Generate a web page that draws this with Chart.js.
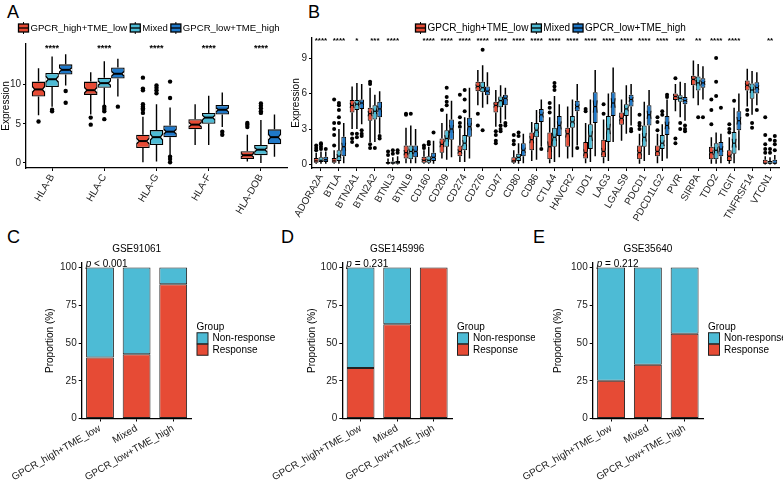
<!DOCTYPE html>
<html>
<head>
<meta charset="utf-8">
<script src="https://cdn.jsdelivr.net/npm/chart.js@4.4.1/dist/chart.umd.min.js"></script>
<style>
body { margin: 0; background: #fff; width: 783px; height: 481px; position: relative; overflow: hidden; font-family: "Liberation Sans", Arial, sans-serif; }
canvas { position: absolute; }
.tag { position: absolute; font-size: 18px; color: #000; line-height: 20px; }
</style>
</head>
<body>
<div class="tag" style="left:7px;top:2px">A</div>
<div class="tag" style="left:308px;top:2px">B</div>
<div class="tag" style="left:7px;top:227px">C</div>
<div class="tag" style="left:281px;top:227px">D</div>
<div class="tag" style="left:533px;top:227px">E</div>
<canvas id="cA" width="290" height="240" style="left:0;top:0"></canvas>
<canvas id="cB" width="493" height="240" style="left:290px;top:0"></canvas>
<canvas id="cC" width="290" height="241" style="left:0;top:240px"></canvas>
<canvas id="cD" width="280" height="241" style="left:255px;top:240px"></canvas>
<canvas id="cE" width="268" height="241" style="left:515px;top:240px"></canvas>
<script>
// groups + colours
const groups = ['GPCR_high+TME_low', 'Mixed', 'GPCR_low+TME_high'];
const boxColors = ['#E64B35', '#4DBBD5', '#1F78C8'];

// panel A : [lower whisker, q1, median, q3, upper whisker]
const genesA = ['HLA-B', 'HLA-C', 'HLA-G', 'HLA-F', 'HLA-DOB'];
const aHigh = [[6.1, 8.5, 9.4, 10.4, 12.1], [6.2, 8.7, 9.3, 10.4, 11.6], [0.1, 1.9, 2.8, 3.6, 5.9], [2.3, 4.3, 4.9, 5.6, 7.5], [0.2, 0.5, 1.0, 1.5, 3.6]];
const aMixed = [[7.2, 9.7, 10.7, 11.5, 13.6], [7.4, 9.6, 10.2, 10.9, 13.0], [0.2, 2.3, 3.3, 4.2, 7.5], [2.3, 5.0, 5.8, 6.4, 8.6], [0.0, 1.0, 1.7, 2.3, 5.5]];
const aLow = [[9.9, 11.3, 11.9, 12.6, 13.9], [8.5, 10.8, 11.4, 12.2, 13.3], [1.0, 3.3, 4.0, 4.8, 7.1], [4.6, 6.2, 6.8, 7.4, 9.0], [0.8, 2.4, 3.3, 4.3, 6.2]];
const aHighOut = [[5.3], [5.8, 4.9], [6.4, 6.8, 7.0, 7.2, 7.5, 9.3, 9.5, 10.9], [], [4.6, 4.9, 5.1]];
const aMixedOut = [[6.6, 6.8], [7.2, 6.9, 6.6, 5.6], [8.9, 9.3, 9.6, 9.9], [], [6.4, 6.6, 7.0, 7.3, 7.6]];
const aLowOut = [[9.2, 7.7], [7.2], [10.4, 8.3, 0.8, 0.5, 0.1], [4.0, 3.6], []];
const starsA = ['****', '****', '****', '****', '****'];
const ticksA = [0, 5, 10];

// panel B
const genesB = ['ADORA2A', 'BTLA', 'BTN2A1', 'BTN2A2', 'BTNL3', 'BTNL9', 'CD160', 'CD209', 'CD274', 'CD276', 'CD47', 'CD80', 'CD86', 'CTLA4', 'HAVCR2', 'IDO1', 'LAG3', 'LGALS9', 'PDCD1', 'PDCD1LG2', 'PVR', 'SIRPA', 'TDO2', 'TIGIT', 'TNFRSF14', 'VTCN1'];
const bHigh = [[0.05, 0.15, 0.3, 0.55, 1.0], [0.05, 0.15, 0.3, 0.55, 1.2], [3.0, 4.4, 5.0, 5.45, 6.6], [1.9, 3.7, 4.3, 4.8, 6.5], [0.0, 0.05, 0.1, 0.2, 0.5], [0.1, 0.5, 1.0, 1.6, 3.1], [0.05, 0.15, 0.35, 0.65, 1.2], [0.5, 1.0, 1.7, 2.2, 3.5], [0.2, 0.7, 1.1, 1.6, 3.0], [5.0, 6.2, 6.6, 7.0, 8.0], [3.2, 4.4, 5.0, 5.3, 6.3], [0.05, 0.15, 0.3, 0.6, 1.2], [0.3, 1.2, 2.1, 2.7, 3.6], [0.1, 0.45, 1.5, 2.7, 4.0], [0.5, 1.5, 2.6, 3.1, 4.9], [0.1, 0.5, 1.0, 1.9, 3.5], [0.1, 0.6, 1.1, 2.1, 3.8], [2.0, 3.35, 3.9, 4.4, 5.5], [0.05, 0.45, 1.0, 1.6, 2.6], [0.1, 0.7, 1.1, 1.6, 2.6], [4.5, 5.45, 5.75, 6.0, 6.8], [5.6, 6.7, 7.2, 7.5, 8.8], [0.05, 0.45, 1.0, 1.5, 2.3], [0.05, 0.3, 0.7, 1.2, 2.3], [4.9, 6.25, 6.7, 7.1, 8.1], [0.0, 0.05, 0.1, 0.4, 0.7]];
const bMixed = [[0.05, 0.2, 0.35, 0.6, 1.1], [0.05, 0.3, 0.7, 1.2, 3.0], [3.0, 4.6, 5.1, 5.45, 6.9], [1.9, 3.8, 4.5, 5.0, 5.9], [0.0, 0.05, 0.12, 0.25, 0.6], [0.1, 0.45, 1.1, 1.6, 3.3], [0.05, 0.15, 0.35, 0.7, 1.5], [0.4, 1.5, 2.2, 2.9, 4.3], [0.2, 1.2, 1.8, 2.5, 4.0], [4.8, 6.1, 6.5, 7.0, 8.4], [3.5, 4.85, 5.4, 5.75, 6.7], [0.05, 0.3, 0.6, 0.9, 1.8], [0.4, 2.3, 2.9, 3.5, 4.6], [0.2, 1.5, 2.3, 3.1, 5.8], [0.6, 3.1, 3.6, 4.1, 5.5], [0.2, 1.3, 2.4, 3.4, 5.5], [0.3, 1.9, 3.0, 4.1, 6.0], [2.6, 4.1, 4.7, 5.1, 6.7], [0.3, 1.5, 2.3, 3.3, 5.3], [0.3, 1.3, 1.8, 2.5, 3.4], [4.0, 5.3, 5.6, 5.85, 7.0], [5.0, 6.25, 6.9, 7.45, 8.5], [0.05, 0.45, 1.2, 1.8, 2.7], [0.1, 0.9, 1.8, 2.75, 4.8], [4.2, 5.55, 6.3, 6.85, 7.9], [0.0, 0.05, 0.1, 0.3, 0.6]];
const bLow = [[0.05, 0.2, 0.4, 0.65, 1.1], [0.1, 0.7, 1.5, 2.35, 3.5], [3.4, 4.7, 5.2, 5.5, 6.8], [2.6, 4.0, 4.7, 5.3, 6.2], [0.0, 0.05, 0.15, 0.3, 0.7], [0.1, 0.6, 1.1, 1.6, 3.0], [0.05, 0.3, 0.6, 1.0, 2.0], [0.6, 2.1, 3.0, 3.8, 5.4], [0.5, 2.35, 3.2, 3.95, 6.5], [5.1, 5.85, 6.2, 6.6, 7.8], [3.8, 5.0, 5.6, 5.9, 6.5], [0.1, 0.7, 1.2, 1.8, 2.6], [1.5, 3.6, 4.2, 4.7, 5.5], [0.6, 2.4, 3.3, 4.1, 5.1], [1.6, 4.5, 4.9, 5.4, 6.8], [0.7, 3.5, 4.9, 6.1, 8.0], [1.9, 4.1, 5.2, 6.1, 8.2], [3.3, 4.9, 5.5, 5.9, 6.8], [0.8, 3.3, 4.2, 5.0, 6.3], [0.5, 2.5, 3.3, 4.1, 5.5], [3.7, 5.1, 5.4, 5.7, 6.9], [5.5, 6.5, 6.9, 7.3, 8.3], [0.1, 0.7, 1.3, 1.9, 2.6], [1.2, 2.9, 3.7, 4.5, 6.0], [5.0, 6.0, 6.5, 6.95, 7.8], [0.0, 0.05, 0.1, 0.4, 0.8]];
const bHighOut = [[1.2, 1.4, 1.6], [1.6, 2.5, 3.0, 3.5, 5.5], [2.6, 2.2, 1.9], [6.8, 7.0, 1.7, 1.4], [0.8, 1.1], [4.2, 4.3], [1.4, 1.6], [4.6], [3.2, 3.5, 4.0, 5.9], [4.3, 3.3], [2.8, 2.5, 2.0, 1.8], [1.7, 2.0, 2.5], [], [4.4, 4.8, 5.2], [], [4.5, 4.7], [4.3, 5.1], [], [3.0, 3.3, 3.5, 4.2], [2.9, 3.6, 4.0], [7.3, 2.2, 1.8], [], [3.4, 4.6, 5.5], [2.7, 3.0, 3.4], [4.6, 4.2], [1.0, 1.3, 1.7, 2.5, 4.0]];
const bMixedOut = [[1.3, 1.5, 1.7, 1.8], [3.5, 4.0, 4.6, 5.0, 5.2], [2.6, 2.3, 1.6], [1.4], [0.9, 1.2], [4.3], [1.7, 1.9], [5.0, 5.3, 5.7, 6.5], [4.5, 5.5, 6.3], [2.9, 9.7], [3.3, 3.0, 2.8], [2.4, 2.7], [], [6.3, 6.6, 6.9], [], [], [], [], [], [4.2, 4.5], [3.5, 3.0], [4.0], [5.8, 7.0, 9.0], [5.4], [3.5, 3.1], [1.0, 1.3, 2.1]];
const bLowOut = [[1.3], [], [2.9, 2.6, 2.4], [2.4, 2.2], [1.0, 1.2], [], [2.7], [], [], [], [3.5, 3.3], [], [1.3], [], [1.4], [], [], [3.0, 2.8], [], [5.7, 5.9], [3.3, 3.0, 2.8], [4.0], [4.8], [], [4.6], [1.2, 1.7, 2.0, 2.4]];
const starsB = ['****', '****', '*', '***', '****', '', '****', '****', '****', '****', '****', '****', '****', '****', '****', '****', '****', '****', '****', '****', '***', '**', '****', '****', '', '**'];
const ticksB = [0, 3, 6, 9];

// panels C, D, E : proportion (%)
const respLabels = ['GPCR_high+TME_low', 'Mixed', 'GPCR_low+TME_high'];
const respC = [40.4, 42.6, 89.0];
const nonC = [59.6, 57.4, 11.0];
const respD = [33.4, 62.4, 100];
const nonD = [66.6, 37.6, 0];
const respE = [25.0, 35.6, 56.2];
const nonE = [75.0, 64.4, 43.8];
const ticksP = [0, 25, 50, 75, 100];

Chart.defaults.font.family = '"Liberation Sans", Arial, sans-serif';
Chart.defaults.color = '#222';

// keep the plot area where the layout puts it (no extra label padding)
const noPad = s => { s.paddingLeft = 0; s.paddingRight = 0; s.paddingTop = 0; s.paddingBottom = 0; };

// whiskers, notches, medians and outliers on top of the floating bars
const boxDraw = {
  id: 'boxDraw',
  afterDatasetsDraw(chart, args, o) {
    const ctx = chart.ctx, ys = chart.scales.y;
    const py = v => ys.getPixelForValue(v);
    ctx.save();
    chart.data.datasets.forEach((ds, di) => {
      chart.getDatasetMeta(di).data.forEach((bar, i) => {
        const s = o.stats[di][i];
        const cx = bar.x, w = bar.width, L = cx - w / 2, R = cx + w / 2;
        const top = py(s[3]), bot = py(s[1]), m = py(s[2]);
        ctx.strokeStyle = '#000';
        ctx.lineWidth = o.lw;
        ctx.beginPath();
        ctx.moveTo(cx, top); ctx.lineTo(cx, py(s[4]));
        ctx.moveTo(cx, bot); ctx.lineTo(cx, py(s[0]));
        ctx.stroke();
        const nh = Math.min((bot - top) * 0.2, (bot - top) / 2 - 1);
        const ins = w * o.notch;
        if (nh > 1 && ins > 0.5) {
          ctx.fillStyle = '#fff';
          ctx.beginPath();
          ctx.moveTo(L, m - nh); ctx.lineTo(L + ins, m); ctx.lineTo(L, m + nh);
          ctx.moveTo(R, m - nh); ctx.lineTo(R - ins, m); ctx.lineTo(R, m + nh);
          ctx.fill();
          ctx.lineWidth = o.bw;
          ctx.beginPath();
          ctx.moveTo(L + o.bw / 2, m - nh); ctx.lineTo(L + ins, m); ctx.lineTo(L + o.bw / 2, m + nh);
          ctx.moveTo(R - o.bw / 2, m - nh); ctx.lineTo(R - ins, m); ctx.lineTo(R - o.bw / 2, m + nh);
          ctx.stroke();
        }
        ctx.lineWidth = o.mw;
        ctx.beginPath();
        ctx.moveTo(L + ins, m); ctx.lineTo(R - ins, m);
        ctx.stroke();
        ctx.fillStyle = '#000';
        o.outs[di][i].forEach(v => {
          ctx.beginPath();
          ctx.arc(cx, py(v), o.r, 0, Math.PI * 2);
          ctx.fill();
        });
      });
    });
    ctx.restore();
  }
};

// significance stars + group legend
const boxText = {
  id: 'boxText',
  afterDraw(chart, args, o) {
    const ctx = chart.ctx, xs = chart.scales.x;
    ctx.save();
    ctx.fillStyle = '#000';
    ctx.font = o.starFont;
    ctx.textAlign = 'center';
    ctx.textBaseline = 'top';
    o.stars.forEach((t, i) => ctx.fillText(t, xs.getPixelForValue(i), chart.chartArea.top + o.starDy));
    // legend
    ctx.font = o.keyFont;
    ctx.textAlign = 'left';
    ctx.textBaseline = 'middle';
    let x = o.keyX;
    const y = o.keyY;
    groups.forEach((g, i) => {
      ctx.strokeStyle = '#000';
      ctx.lineWidth = 1;
      ctx.beginPath();
      ctx.moveTo(x + 5.5, y - 6); ctx.lineTo(x + 5.5, y + 6);
      ctx.stroke();
      ctx.fillStyle = boxColors[i];
      ctx.fillRect(x + 0.5, y - 4, 10, 8);
      ctx.lineWidth = 1.3;
      ctx.strokeRect(x + 0.5, y - 4, 10, 8);
      ctx.beginPath();
      ctx.moveTo(x + 0.5, y); ctx.lineTo(x + 10.5, y);
      ctx.stroke();
      ctx.fillStyle = '#000';
      ctx.fillText(g, x + 12.5, y + 0.5);
      x += 12.5 + ctx.measureText(g).width + 2.5;
    });
    ctx.restore();
  }
};

function boxChart(id, labels, stats, outs, stars, lim, ticks, c) {
  return new Chart(document.getElementById(id), {
    type: 'bar',
    data: {
      labels: labels,
      datasets: stats.map((st, g) => ({
        label: groups[g],
        data: st.map(s => [s[1], s[3]]),
        backgroundColor: boxColors[g],
        borderColor: '#000',
        borderWidth: c.bw,
        borderSkipped: false,
        categoryPercentage: c.cp,
        barPercentage: 1
      }))
    },
    options: {
      responsive: false,
      animation: false,
      layout: { autoPadding: false, padding: { top: c.top, right: c.right, left: 0, bottom: 0 } },
      plugins: {
        legend: { display: false },
        tooltip: { enabled: false },
        boxDraw: { stats: stats, outs: outs, lw: c.lw, bw: c.bw, mw: c.mw, r: c.r, notch: c.notch },
        boxText: { stars: stars, starFont: c.starFont, starDy: c.starDy, keyX: c.keyX, keyY: c.keyY, keyFont: c.keyFont }
      },
      scales: {
        x: {
          grid: { display: true, drawOnChartArea: false, offset: false, tickLength: 3, color: '#000' },
          border: { display: true, color: '#000', width: 1.3 },
          ticks: { autoSkip: false, minRotation: 60, maxRotation: 60, padding: 1, color: '#222', font: { size: c.xFont } },
          afterFit: s => { s.height = c.xh; noPad(s); }
        },
        y: {
          min: lim[0], max: lim[1],
          afterBuildTicks: s => { s.ticks = ticks.map(v => ({ value: v })); },
          grid: { display: true, drawOnChartArea: false, tickLength: 3, color: '#000' },
          border: { display: true, color: '#000', width: 1.3 },
          ticks: { padding: 2, color: '#222', font: { size: 10 } },
          title: { display: true, text: 'Expression', color: '#000', font: { size: 10 }, padding: 0 },
          afterFit: s => { s.width = c.yw; noPad(s); }
        }
      }
    },
    plugins: [boxDraw, boxText]
  });
}

boxChart('cA', genesA, [aHigh, aMixed, aLow], [aHighOut, aMixedOut, aLowOut], starsA, [-0.64, 15.2], ticksA,
  { bw: 1.3, cp: 0.78, top: 44, right: 3, lw: 1.4, mw: 2, r: 2.2, notch: 0.22, xFont: 10, xh: 72, yw: 26, starFont: 'bold 9px "Liberation Sans", Arial', starDy: 0, keyX: 18, keyY: 28, keyFont: '9.6px "Liberation Sans", Arial' });
boxChart('cB', genesB, [bHigh, bMixed, bLow], [bHighOut, bMixedOut, bLowOut], starsB, [-0.3, 10.7], ticksB,
  { bw: 1, cp: 0.8, top: 38, right: 4, lw: 1.5, mw: 1.2, r: 2, notch: 0.18, xFont: 10, xh: 72, yw: 22, starFont: 'bold 8px "Liberation Sans", Arial', starDy: -1.5, keyX: 125, keyY: 28, keyFont: '10px "Liberation Sans", Arial' });

// stacked proportion bars
const propText = {
  id: 'propText',
  afterDraw(chart, args, o) {
    const ctx = chart.ctx, a = chart.chartArea;
    ctx.save();
    ctx.fillStyle = '#000';
    ctx.font = '10px "Liberation Sans", Arial, sans-serif';
    ctx.textBaseline = 'middle';
    ctx.textAlign = 'center';
    ctx.fillText(o.title, (a.left + a.right) / 2, 9);
    ctx.textAlign = 'left';
    ctx.font = 'italic 10px "Liberation Sans", Arial, sans-serif';
    ctx.fillText('p', a.left + 4, a.top + 1);
    const pw = ctx.measureText('p ').width;
    ctx.font = '10px "Liberation Sans", Arial, sans-serif';
    ctx.fillText(o.p, a.left + 4 + pw, a.top + 1);
    // legend
    const lx = a.right + 5, my = (a.top + a.bottom) / 2;
    ctx.fillText('Group', lx, my - 14);
    [['Non-response', '#4DBBD5'], ['Response', '#E64B35']].forEach((k, i) => {
      const ky = my - 8 + i * 11.5;
      ctx.fillStyle = k[1];
      ctx.fillRect(lx + 0.5, ky, 11, 11);
      ctx.strokeStyle = '#222';
      ctx.lineWidth = 1;
      ctx.strokeRect(lx + 0.5, ky, 11, 11);
      ctx.fillStyle = '#000';
      ctx.fillText(k[0], lx + 16, ky + 5.5);
    });
    ctx.restore();
  }
};

function propChart(id, resp, non, title, p, pad) {
  return new Chart(document.getElementById(id), {
    type: 'bar',
    data: {
      labels: respLabels,
      datasets: [
        { label: 'Response', data: resp, backgroundColor: '#E64B35' },
        { label: 'Non-response', data: non, backgroundColor: '#4DBBD5' }
      ].map(d => Object.assign(d, { borderColor: '#222', borderWidth: 1, borderSkipped: false, categoryPercentage: 1, barPercentage: 0.76 }))
    },
    options: {
      responsive: false,
      animation: false,
      layout: { autoPadding: false, padding: { top: 23, left: pad[0], right: pad[2], bottom: 0 } },
      plugins: {
        legend: { display: false },
        tooltip: { enabled: false },
        propText: { title: title, p: p }
      },
      scales: {
        x: {
          stacked: true,
          grid: { display: true, drawOnChartArea: false, offset: false, tickLength: 3, color: '#000' },
          border: { display: true, color: '#000', width: 1.3 },
          ticks: { autoSkip: false, minRotation: 30, maxRotation: 30, padding: 1, color: '#222', font: { size: 10 } },
          afterFit: s => { s.height = 62.5; noPad(s); }
        },
        y: {
          stacked: true,
          min: 0, max: 103,
          afterBuildTicks: s => { s.ticks = ticksP.map(v => ({ value: v })); },
          grid: { display: true, drawOnChartArea: false, tickLength: 3, color: '#000' },
          border: { display: true, color: '#000', width: 1.3 },
          ticks: { padding: 2, color: '#222', font: { size: 10 } },
          title: { display: true, text: 'Proportion (%)', color: '#000', font: { size: 10 }, padding: 0 },
          afterFit: s => { s.width = pad[1]; noPad(s); }
        }
      }
    },
    plugins: [propText]
  });
}

propChart('cC', respC, nonC, 'GSE91061', '< 0.001', [44, 37.7, 98.5]);
propChart('cD', respD, nonD, 'GSE145996', '= 0.231', [51, 36.3, 83]);
propChart('cE', respE, nonE, 'GSE35640', '= 0.212', [37, 40.7, 80]);
</script>
</body>
</html>
